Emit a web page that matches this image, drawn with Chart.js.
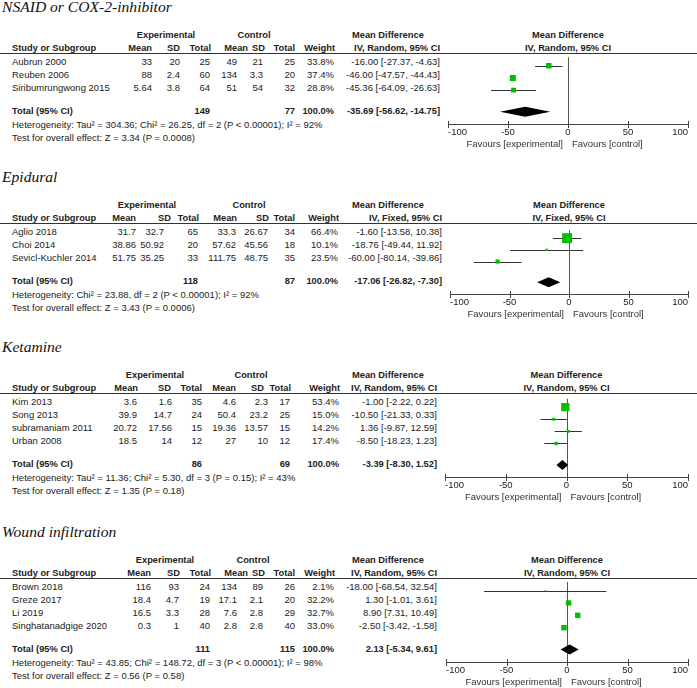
<!DOCTYPE html>
<html>
<head>
<meta charset="utf-8">
<script src="https://cdn.jsdelivr.net/npm/chart.js@4.4.0/dist/chart.umd.min.js"></script>
<style>
  html, body { margin: 0; padding: 0; background: #fff; }
  #page { position: relative; width: 697px; height: 688px; overflow: hidden;
          font-family: 'Liberation Sans', Arial, sans-serif; font-size: 9.5px; color: #222; }
  .t { position: absolute; white-space: nowrap; line-height: 12px; height: 12px; }
  .b { font-weight: bold; font-size: 9.3px; }
  .title { font-family: 'Liberation Serif', 'Times New Roman', serif; font-style: italic;
           font-size: 15.6px; line-height: 18px; height: 18px; color: #111; }
  .rule { position: absolute; left: 0; width: 697px; height: 1px; background: #333; }
  canvas { position: absolute; }
</style>
</head>
<body>
<div id="page"></div>
<script>
// Forest plot data
const xTicks = [-100, -50, 0, 50, 100];
const colHeaders = ['Mean', 'SD', 'Total', 'Mean', 'SD', 'Total', 'Weight'];

// NSAID or COX-2-inhibitor
const nsaidStudies = ['Aubrun 2000', 'Reuben 2006', 'Siribumrungwong 2015'];
const nsaidExpMean = [33, 88, 5.64];
const nsaidExpSD = [20, 2.4, 3.8];
const nsaidExpN = [25, 60, 64];
const nsaidCtlMean = [49, 134, 51];
const nsaidCtlSD = [21, 3.3, 54];
const nsaidCtlN = [25, 20, 32];
const nsaidWeight = [33.8, 37.4, 28.8];
const nsaidMD = [-16.00, -46.00, -45.36];
const nsaidLo = [-27.37, -47.57, -64.09];
const nsaidHi = [-4.63, -44.43, -26.63];
const nsaidPooled = [-35.69, -56.62, -14.75];
const nsaidTotals = [149, 77];

// Epidural
const epiStudies = ['Aglio 2018', 'Choi 2014', 'Sevicl-Kuchler 2014'];
const epiExpMean = [31.7, 38.86, 51.75];
const epiExpSD = [32.7, 50.92, 35.25];
const epiExpN = [65, 20, 33];
const epiCtlMean = [33.3, 57.62, 111.75];
const epiCtlSD = [26.67, 45.56, 48.75];
const epiCtlN = [34, 18, 35];
const epiWeight = [66.4, 10.1, 23.5];
const epiMD = [-1.60, -18.76, -60.00];
const epiLo = [-13.58, -49.44, -80.14];
const epiHi = [10.38, 11.92, -39.86];
const epiPooled = [-17.06, -26.82, -7.30];
const epiTotals = [118, 87];

// Ketamine
const ketStudies = ['Kim 2013', 'Song 2013', 'subramaniam 2011', 'Urban 2008'];
const ketExpMean = [3.6, 39.9, 20.72, 18.5];
const ketExpSD = [1.6, 14.7, 17.56, 14];
const ketExpN = [35, 24, 15, 12];
const ketCtlMean = [4.6, 50.4, 19.36, 27];
const ketCtlSD = [2.3, 23.2, 13.57, 10];
const ketCtlN = [17, 25, 15, 12];
const ketWeight = [53.4, 15.0, 14.2, 17.4];
const ketMD = [-1.00, -10.50, 1.36, -8.50];
const ketLo = [-2.22, -21.33, -9.87, -18.23];
const ketHi = [0.22, 0.33, 12.59, 1.23];
const ketPooled = [-3.39, -8.30, 1.52];
const ketTotals = [86, 69];

// Wound infiltration
const woundStudies = ['Brown 2018', 'Greze 2017', 'Li 2019', 'Singhatanadgige 2020'];
const woundExpMean = [116, 18.4, 16.5, 0.3];
const woundExpSD = [93, 4.7, 3.3, 1];
const woundExpN = [24, 19, 28, 40];
const woundCtlMean = [134, 17.1, 7.6, 2.8];
const woundCtlSD = [89, 2.1, 2.8, 2.8];
const woundCtlN = [26, 20, 29, 40];
const woundWeight = [2.1, 32.2, 32.7, 33.0];
const woundMD = [-18.00, 1.30, 8.90, -2.50];
const woundLo = [-68.54, -1.01, 7.31, -3.42];
const woundHi = [32.54, 3.61, 10.49, -1.58];
const woundPooled = [2.13, -5.34, 9.61];
const woundTotals = [111, 115];

const panels = [
    { title: 'NSAID or COX-2-inhibitor', method: 'IV, Random, 95% CI',
      studies: nsaidStudies, cols: [nsaidExpMean, nsaidExpSD, nsaidExpN, nsaidCtlMean, nsaidCtlSD, nsaidCtlN],
      weight: nsaidWeight, md: nsaidMD, lo: nsaidLo, hi: nsaidHi, pooled: nsaidPooled, totals: nsaidTotals,
      het: 'Heterogeneity: Tau² = 304.36; Chi² = 26.25, df = 2 (P < 0.00001); I² = 92%',
      z: 'Test for overall effect: Z = 3.34 (P = 0.0008)' },
    { title: 'Epidural', method: 'IV, Fixed, 95% CI',
      studies: epiStudies, cols: [epiExpMean, epiExpSD, epiExpN, epiCtlMean, epiCtlSD, epiCtlN],
      weight: epiWeight, md: epiMD, lo: epiLo, hi: epiHi, pooled: epiPooled, totals: epiTotals,
      het: 'Heterogeneity: Chi² = 23.88, df = 2 (P < 0.00001); I² = 92%',
      z: 'Test for overall effect: Z = 3.43 (P = 0.0006)' },
    { title: 'Ketamine', method: 'IV, Random, 95% CI',
      studies: ketStudies, cols: [ketExpMean, ketExpSD, ketExpN, ketCtlMean, ketCtlSD, ketCtlN],
      weight: ketWeight, md: ketMD, lo: ketLo, hi: ketHi, pooled: ketPooled, totals: ketTotals,
      het: 'Heterogeneity: Tau² = 11.36; Chi² = 5.30, df = 3 (P = 0.15); I² = 43%',
      z: 'Test for overall effect: Z = 1.35 (P = 0.18)' },
    { title: 'Wound infiltration', method: 'IV, Random, 95% CI',
      studies: woundStudies, cols: [woundExpMean, woundExpSD, woundExpN, woundCtlMean, woundCtlSD, woundCtlN],
      weight: woundWeight, md: woundMD, lo: woundLo, hi: woundHi, pooled: woundPooled, totals: woundTotals,
      het: 'Heterogeneity: Tau² = 43.85; Chi² = 148.72, df = 3 (P < 0.00001); I² = 98%',
      z: 'Test for overall effect: Z = 0.56 (P = 0.58)' }
];

// Layout of each panel (pixels)
const layouts = [
    { sepY: 53, axisLeft: 448, expC: 166, ctlC: 254, effR: 440,
      hdrR: [152, 180, 211, 248, 265, 295, 335], datR: [152, 180, 210, 237, 263, 295, 334] },
    { sepY: 223, axisLeft: 450, expC: 147, ctlC: 249, effR: 442,
      hdrR: [136, 171, 199, 237, 269, 295, 339], datR: [136, 164, 198, 236, 268, 295, 338] },
    { sepY: 393, axisLeft: 445, expC: 155, ctlC: 251, effR: 437,
      hdrR: [138, 171, 202, 236, 264, 291, 340], datR: [137, 172, 202, 236, 268, 290, 339] },
    { sepY: 578, axisLeft: 446, expC: 165, ctlC: 253, effR: 437,
      hdrR: [151, 180, 211, 248, 265, 295, 335], datR: [151, 179, 210, 237, 263, 295, 334] }
];

const PAGE_W = 697;
const AXIS_RIGHT = 688;
const ROW_H = 13;
const FIRST_ROW = 9;
const TOTAL_GAP = 0.77;
const CANVAS_LEFT = 400;
const AXIS_BOX = 28;
const FONT = "'Liberation Sans', Arial, sans-serif";

const page = document.getElementById('page');

function put(x, cy, str, align, cls) {
    const el = document.createElement('div');
    el.className = 't' + (cls ? ' ' + cls : '');
    el.textContent = str;
    const off = cls && cls.indexOf('title') >= 0 ? 9 : 6;
    el.style.top = (cy - off) + 'px';
    if (align === 'right') {
        el.style.right = (PAGE_W - x) + 'px';
    } else if (align === 'center') {
        el.style.left = x + 'px';
        el.style.transform = 'translateX(-50%)';
    } else {
        el.style.left = x + 'px';
    }
    page.appendChild(el);
}

function ci(md, lo, hi) {
    return md.toFixed(2) + ' [' + lo.toFixed(2) + ', ' + hi.toFixed(2) + ']';
}

function drawTable(p, L) {
    const n = p.studies.length;
    const top = L.sepY;
    const plotC = (L.axisLeft + AXIS_RIGHT) / 2;
    const totalY = top + FIRST_ROW + ROW_H * (n + TOTAL_GAP);

    put(2, top - 46, p.title, 'left', 'title');

    const h1 = top - 18.5, h2 = top - 5.5;
    put(L.expC, h1, 'Experimental', 'center', 'b');
    put(L.ctlC, h1, 'Control', 'center', 'b');
    put(352, h1, 'Mean Difference', 'left', 'b');
    put(plotC, h1, 'Mean Difference', 'center', 'b');
    put(12, h2, 'Study or Subgroup', 'left', 'b');
    colHeaders.forEach((h, c) => put(L.hdrR[c], h2, h, 'right', 'b'));
    put(L.effR, h2, p.method, 'right', 'b');
    put(plotC, h2, p.method, 'center', 'b');

    const rule = document.createElement('div');
    rule.className = 'rule';
    rule.style.top = top + 'px';
    page.appendChild(rule);

    p.studies.forEach((s, i) => {
        const y = top + FIRST_ROW + ROW_H * i;
        put(12, y, s);
        p.cols.forEach((col, c) => put(L.datR[c], y, String(col[i]), 'right'));
        put(L.datR[6], y, p.weight[i].toFixed(1) + '%', 'right');
        put(L.effR, y, ci(p.md[i], p.lo[i], p.hi[i]), 'right');
    });

    put(12, totalY, 'Total (95% CI)', 'left', 'b');
    put(L.datR[2], totalY, String(p.totals[0]), 'right', 'b');
    put(L.datR[5], totalY, String(p.totals[1]), 'right', 'b');
    put(L.datR[6], totalY, '100.0%', 'right', 'b');
    put(L.effR, totalY, ci(p.pooled[0], p.pooled[1], p.pooled[2]), 'right', 'b');
    put(12, totalY + 14, p.het);
    put(12, totalY + 27, p.z);
}

function drawForest(p, L) {
    const n = p.studies.length;
    const top = L.sepY;
    const axisY = top + FIRST_ROW + ROW_H * (n + TOTAL_GAP + 1);
    const plotH = axisY - top;
    const yMin = -FIRST_ROW / ROW_H;

    const canvas = document.createElement('canvas');
    canvas.width = PAGE_W - CANVAS_LEFT;
    canvas.height = plotH + AXIS_BOX;
    canvas.style.left = CANVAS_LEFT + 'px';
    canvas.style.top = top + 'px';
    page.appendChild(canvas);

    // CI whiskers, zero line, axis ticks, pooled diamond, favours labels
    const forest = {
        id: 'forest',
        beforeDatasetsDraw(chart) {
            const ctx = chart.ctx, xs = chart.scales.x, ys = chart.scales.y, a = chart.chartArea;
            const x0 = Math.round(xs.getPixelForValue(0)) + 0.5;
            ctx.save();
            ctx.lineWidth = 1;
            ctx.strokeStyle = '#555';
            ctx.beginPath();
            ctx.moveTo(x0, a.top);
            ctx.lineTo(x0, a.bottom);
            ctx.stroke();

            ctx.strokeStyle = '#444';
            xTicks.forEach(v => {
                const px = Math.round(xs.getPixelForValue(v)) + 0.5;
                ctx.beginPath();
                ctx.moveTo(px, a.bottom - 3);
                ctx.lineTo(px, a.bottom + 4);
                ctx.stroke();
            });

            ctx.strokeStyle = '#333';
            p.md.forEach((m, i) => {
                const y = Math.round(ys.getPixelForValue(i)) + 0.5;
                ctx.beginPath();
                ctx.moveTo(xs.getPixelForValue(p.lo[i]), y);
                ctx.lineTo(xs.getPixelForValue(p.hi[i]), y);
                ctx.stroke();
            });

            const dy = ys.getPixelForValue(n + TOTAL_GAP);
            ctx.fillStyle = '#000';
            ctx.beginPath();
            ctx.moveTo(xs.getPixelForValue(p.pooled[1]), dy);
            ctx.lineTo(xs.getPixelForValue(p.pooled[0]), dy - 5);
            ctx.lineTo(xs.getPixelForValue(p.pooled[2]), dy);
            ctx.lineTo(xs.getPixelForValue(p.pooled[0]), dy + 5);
            ctx.closePath();
            ctx.fill();
            ctx.restore();
        },
        afterDraw(chart) {
            const ctx = chart.ctx, xs = chart.scales.x, a = chart.chartArea;
            const x0 = xs.getPixelForValue(0);
            ctx.save();
            ctx.font = '9.5px ' + FONT;
            ctx.fillStyle = '#333';
            ctx.textBaseline = 'middle';
            ctx.textAlign = 'right';
            ctx.fillText('Favours [experimental]', x0 - 5, a.bottom + 20);
            ctx.textAlign = 'left';
            ctx.fillText('Favours [control]', x0 + 4, a.bottom + 20);
            ctx.restore();
        }
    };

    new Chart(canvas, {
        type: 'scatter',
        data: {
            datasets: [{
                data: p.md.map((m, i) => ({ x: m, y: i })),
                pointStyle: 'rect',
                pointRadius: p.weight.map(w => (1 + 0.135 * w) / Math.SQRT2),
                backgroundColor: '#00bf00',
                borderWidth: 0
            }]
        },
        options: {
            responsive: false,
            animation: false,
            events: [],
            layout: { padding: { left: L.axisLeft - CANVAS_LEFT, right: PAGE_W - AXIS_RIGHT, top: 0, bottom: 0 } },
            plugins: { legend: { display: false }, tooltip: { enabled: false } },
            scales: {
                x: {
                    type: 'linear',
                    min: -100,
                    max: 100,
                    afterBuildTicks: s => { s.ticks = xTicks.map(v => ({ value: v })); },
                    afterFit: s => { s.height = AXIS_BOX; },
                    ticks: { align: 'inner', color: '#222', padding: 3, maxRotation: 0, autoSkip: false,
                             font: { family: FONT, size: 9.5 } },
                    grid: { display: false, drawTicks: false, tickLength: 0 },
                    border: { display: true, color: '#444', width: 1 }
                },
                y: {
                    type: 'linear',
                    display: false,
                    reverse: true,
                    min: yMin,
                    max: yMin + plotH / ROW_H
                }
            }
        },
        plugins: [forest]
    });
}

panels.forEach((p, k) => {
    drawTable(p, layouts[k]);
    drawForest(p, layouts[k]);
});
</script>
</body>
</html>
